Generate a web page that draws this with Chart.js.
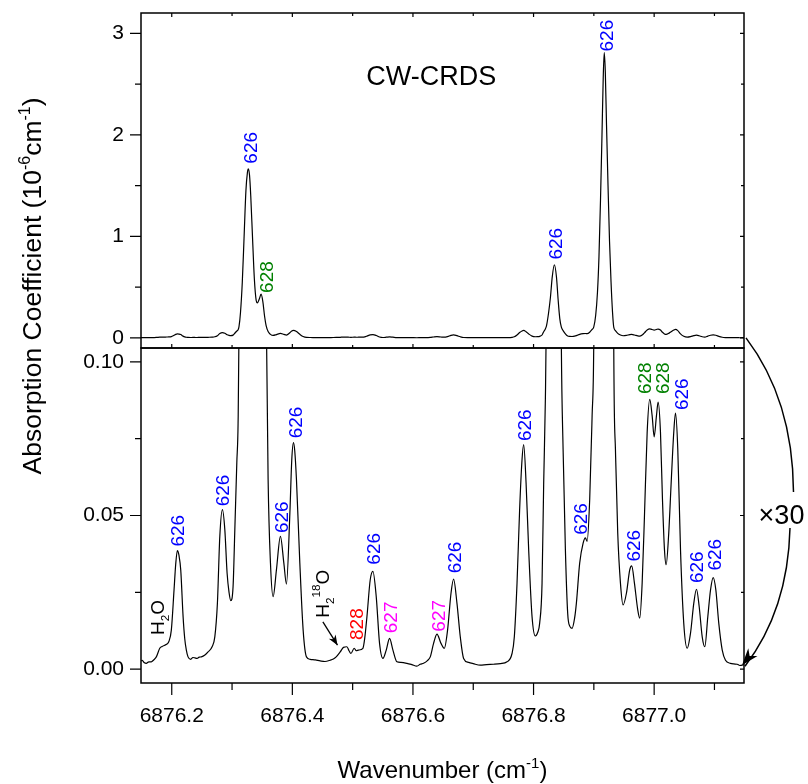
<!DOCTYPE html>
<html>
<head>
<meta charset="utf-8">
<title>CW-CRDS</title>
<script src="https://cdn.jsdelivr.net/npm/chart.js@4.4.1/dist/chart.umd.min.js"></script>
<style>
  html, body { margin: 0; padding: 0; background: #fff; }
  #wrap { width: 808px; height: 784px; }
</style>
</head>
<body>
<div id="wrap"><canvas id="myChart" width="808" height="784"></canvas></div>
<script>
// spectrum (same trace is shown in both panels, bottom one x30)
const wavenumber = [
  6876.1490, 6876.1507, 6876.1540, 6876.1578, 6876.1620, 6876.1661, 6876.1700, 6876.1744, 6876.1801, 6876.1840,
  6876.1884, 6876.1920, 6876.1950, 6876.1993, 6876.2038, 6876.2065, 6876.2093, 6876.2120, 6876.2149, 6876.2188,
  6876.2215, 6876.2242, 6876.2270, 6876.2315, 6876.2350, 6876.2382, 6876.2420, 6876.2455, 6876.2491, 6876.2550,
  6876.2602, 6876.2669, 6876.2714, 6876.2757, 6876.2797, 6876.2840, 6876.2880, 6876.2918, 6876.2950, 6876.2979,
  6876.3017, 6876.3046, 6876.3079, 6876.3100, 6876.3115, 6876.3140, 6876.3170, 6876.3200, 6876.3230, 6876.3255,
  6876.3270, 6876.3290, 6876.3310, 6876.3340, 6876.3370, 6876.3400, 6876.3420, 6876.3450, 6876.3482, 6876.3510,
  6876.3540, 6876.3565, 6876.3598, 6876.3637, 6876.3681, 6876.3736, 6876.3802, 6876.3859, 6876.3902, 6876.3959,
  6876.3990, 6876.4018, 6876.4040, 6876.4068, 6876.4124, 6876.4179, 6876.4234, 6876.4295, 6876.4380, 6876.4461,
  6876.4540, 6876.4627, 6876.4680, 6876.4727, 6876.4793, 6876.4848, 6876.4905, 6876.4940, 6876.4971, 6876.5026,
  6876.5060, 6876.5097, 6876.5170, 6876.5200, 6876.5237, 6876.5291, 6876.5336, 6876.5391, 6876.5446, 6876.5502,
  6876.5557, 6876.5612, 6876.5668, 6876.5734, 6876.5800, 6876.5900, 6876.5980, 6876.6066, 6876.6120, 6876.6176,
  6876.6240, 6876.6287, 6876.6342, 6876.6398, 6876.6465, 6876.6520, 6876.6574, 6876.6631, 6876.6674, 6876.6730,
  6876.6785, 6876.6840, 6876.6923, 6876.7000, 6876.7117, 6876.7220, 6876.7338, 6876.7450, 6876.7560, 6876.7643,
  6876.7681, 6876.7726, 6876.7769, 6876.7809, 6876.7836, 6876.7876, 6876.7919, 6876.7975, 6876.8030, 6876.8070,
  6876.8101, 6876.8141, 6876.8168, 6876.8196, 6876.8215, 6876.8250, 6876.8280, 6876.8310, 6876.8345, 6876.8380,
  6876.8407, 6876.8435, 6876.8461, 6876.8490, 6876.8528, 6876.8566, 6876.8600, 6876.8639, 6876.8680, 6876.8710,
  6876.8765, 6876.8822, 6876.8860, 6876.8888, 6876.8931, 6876.8971, 6876.8998, 6876.9030, 6876.9060, 6876.9085,
  6876.9110, 6876.9135, 6876.9155, 6876.9172, 6876.9190, 6876.9210, 6876.9235, 6876.9260, 6876.9285, 6876.9310,
  6876.9330, 6876.9358, 6876.9396, 6876.9441, 6876.9485, 6876.9540, 6876.9595, 6876.9628, 6876.9673, 6876.9728,
  6876.9761, 6876.9801, 6876.9839, 6876.9884, 6876.9927, 6876.9967, 6877.0000, 6877.0038, 6877.0066, 6877.0105,
  6877.0138, 6877.0171, 6877.0199, 6877.0242, 6877.0282, 6877.0325, 6877.0354, 6877.0392, 6877.0437, 6877.0491,
  6877.0548, 6877.0603, 6877.0657, 6877.0702, 6877.0747, 6877.0797, 6877.0840, 6877.0890, 6877.0935, 6877.0979,
  6877.1023, 6877.1072, 6877.1129, 6877.1183, 6877.1266, 6877.1320, 6877.1378, 6877.1420, 6877.1461, 6877.1490
];
const absorption = [
  0.0027, 0.0029, 0.0022, 0.0019, 0.0024, 0.0024, 0.0030, 0.0040, 0.0068, 0.0074,
  0.0078, 0.0082, 0.0089, 0.0127, 0.0258, 0.0340, 0.0386, 0.0370, 0.0323, 0.0171,
  0.0100, 0.0062, 0.0040, 0.0032, 0.0038, 0.0037, 0.0035, 0.0039, 0.0040, 0.0046,
  0.0056, 0.0073, 0.0105, 0.0214, 0.0432, 0.0519, 0.0454, 0.0312, 0.0250, 0.0223,
  0.0269, 0.0454, 0.0672, 0.0800, 0.110, 0.25, 0.55, 1.00, 1.45, 1.63,
  1.665, 1.60, 1.40, 0.98, 0.58, 0.37, 0.345, 0.38, 0.43, 0.36,
  0.21, 0.12, 0.0617, 0.0345, 0.0236, 0.0323, 0.0432, 0.0345, 0.0277, 0.0508,
  0.0680, 0.0737, 0.0710, 0.0617, 0.0345, 0.0127, 0.0040, 0.0032, 0.0030, 0.0027,
  0.0025, 0.0029, 0.0033, 0.0040, 0.0056, 0.0071, 0.0073, 0.0060, 0.0051, 0.0068,
  0.0060, 0.0062, 0.0068, 0.0100, 0.0171, 0.0290, 0.0318, 0.0236, 0.0084, 0.0035,
  0.0062, 0.0100, 0.0062, 0.0024, 0.0022, 0.0019, 0.0015, 0.0010, 0.0016, 0.0019,
  0.0028, 0.0040, 0.0084, 0.0114, 0.0084, 0.0068, 0.0127, 0.0247, 0.0293, 0.0214,
  0.0105, 0.0035, 0.0022, 0.0018, 0.0013, 0.0015, 0.0016, 0.0018, 0.0024, 0.0051,
  0.0105, 0.0280, 0.0519, 0.0682, 0.0731, 0.0606, 0.0389, 0.0171, 0.0108, 0.0120,
  0.0149, 0.0280, 0.0606, 0.0878, 0.12, 0.25, 0.40, 0.60, 0.72, 0.60,
  0.38, 0.19, 0.105, 0.0715, 0.0389, 0.0182, 0.0140, 0.0133, 0.0165, 0.0214,
  0.0345, 0.0410, 0.0427, 0.0416, 0.0552, 0.0824, 0.105, 0.22, 0.45, 0.80,
  1.35, 2.00, 2.55, 2.81, 2.62, 2.10, 1.50, 0.95, 0.55, 0.25,
  0.105, 0.0715, 0.0443, 0.0280, 0.0209, 0.0247, 0.0323, 0.0336, 0.0280, 0.0193,
  0.0166, 0.0280, 0.0497, 0.0770, 0.0878, 0.0824, 0.0756, 0.0824, 0.0869, 0.0770,
  0.0552, 0.0389, 0.0340, 0.0443, 0.0606, 0.0770, 0.0833, 0.0715, 0.0389, 0.0149,
  0.0068, 0.0117, 0.0214, 0.0260, 0.0203, 0.0105, 0.0073, 0.0171, 0.0258, 0.0298,
  0.0258, 0.0149, 0.0062, 0.0029, 0.0019, 0.0017, 0.0016, 0.0012, 0.0013, 0.0015
];

const xTicks = [6876.2, 6876.4, 6876.6, 6876.8, 6877.0];
const xTickLabels = ["6876.2", "6876.4", "6876.6", "6876.8", "6877.0"];
const xMinorTicks = [6876.3, 6876.5, 6876.7, 6876.9, 6877.1];
const topTicks = [0, 1, 2, 3];
const topTickLabels = ["0", "1", "2", "3"];
const topMinorTicks = [0.5, 1.5, 2.5];
const bottomTicks = [0, 0.05, 0.1];
const bottomTickLabels = ["0.00", "0.05", "0.10"];
const bottomMinorTicks = [0.025, 0.075];

// line assignments: text, colour, wavenumber / value where the label starts, panel
const peakText = ["626", "628", "626", "626",
  "H_{2}O", "626", "626", "626", "626", "H_{2}^{18}O", "828", "626", "627", "627", "626",
  "626", "626", "626", "628", "628", "626", "626", "626"];
const peakColor = ["blue", "green", "blue", "blue",
  "black", "blue", "blue", "blue", "blue", "black", "red", "blue", "magenta", "magenta", "blue",
  "blue", "blue", "blue", "green", "green", "blue", "blue", "blue"];
const peakX = [6876.3295, 6876.3570, 6876.8354, 6876.9200,
  6876.1756, 6876.2096, 6876.2843, 6876.3814, 6876.4055, 6876.4495, 6876.5051, 6876.5333, 6876.5623, 6876.6412, 6876.6677,
  6876.7847, 6876.8777, 6876.9648, 6876.9828, 6877.0129, 6877.0453, 6877.0702, 6877.1001];
const peakY = [1.716, 0.443, 0.771, 2.821,
  0.0111, 0.0399, 0.0530, 0.0443, 0.0751, 0.0167, 0.0095, 0.0340, 0.0117, 0.0122, 0.0312,
  0.0742, 0.0437, 0.0350, 0.0895, 0.0895, 0.0843, 0.0280, 0.0321];
const peakPanel = ["yTop", "yTop", "yTop", "yTop",
  "yBot", "yBot", "yBot", "yBot", "yBot", "yBot", "yBot", "yBot", "yBot", "yBot", "yBot",
  "yBot", "yBot", "yBot", "yBot", "yBot", "yBot", "yBot", "yBot"];

const FONT = "'Liberation Sans', Arial, Helvetica, sans-serif";
const COLORS = { blue: "#0000FF", green: "#008000", red: "#FF0000", magenta: "#FF00FF", black: "#000000" };

// "H_{2}^{18}O" -> parts with sub/superscripts
function richParts(text, size) {
  const parts = [];
  const re = /_\{([^}]*)\}|\^\{([^}]*)\}|([^_^]+)/g;
  let m;
  while ((m = re.exec(text)) !== null) {
    if (m[1] !== undefined) parts.push({ t: m[1], f: size * 0.62, dy: size * 0.28 });
    else if (m[2] !== undefined) parts.push({ t: m[2], f: size * 0.62, dy: -size * 0.45 });
    else parts.push({ t: m[3], f: size, dy: 0 });
  }
  return parts;
}

function drawRich(ctx, parts, x, y, angle, align, color) {
  ctx.save();
  ctx.translate(x, y);
  ctx.rotate(angle);
  ctx.textBaseline = "alphabetic";
  ctx.textAlign = "left";
  ctx.fillStyle = color || "#000";
  let total = 0;
  parts.forEach((p) => {
    ctx.font = p.f + "px " + FONT;
    p.w = ctx.measureText(p.t).width;
    total += p.w;
  });
  let cx = align === "center" ? -total / 2 : 0;
  parts.forEach((p) => {
    ctx.font = p.f + "px " + FONT;
    ctx.fillText(p.t, cx, p.dy || 0);
    cx += p.w;
  });
  ctx.restore();
}

function arrowHead(ctx, tipX, tipY, fromX, fromY, len, half) {
  const a = Math.atan2(tipY - fromY, tipX - fromX);
  const c = Math.cos(a), s = Math.sin(a);
  ctx.beginPath();
  ctx.moveTo(tipX, tipY);
  ctx.lineTo(tipX - len * c + half * s, tipY - len * s - half * c);
  ctx.lineTo(tipX - len * 0.7 * c, tipY - len * 0.7 * s);
  ctx.lineTo(tipX - len * c - half * s, tipY - len * s + half * c);
  ctx.closePath();
  ctx.fill();
}

const panelPlugin = {
  id: "panels",
  beforeDatasetDraw(chart, args) {
    const ys = args.meta.yScale;
    const a = chart.chartArea;
    chart.ctx.save();
    chart.ctx.beginPath();
    chart.ctx.rect(a.left, ys.top, a.right - a.left, ys.bottom - ys.top);
    chart.ctx.clip();
  },
  afterDatasetDraw(chart) {
    chart.ctx.restore();
  },
  afterDraw(chart) {
    const ctx = chart.ctx;
    const a = chart.chartArea;
    const xs = chart.scales.x;
    const yt = chart.scales.yTop;
    const yb = chart.scales.yBot;
    ctx.save();
    ctx.strokeStyle = "#000";
    ctx.fillStyle = "#000";

    // frames
    ctx.lineWidth = 1.5;
    [yt, yb].forEach((ys) => ctx.strokeRect(a.left, ys.top, a.right - a.left, ys.bottom - ys.top));

    // tick marks
    ctx.lineWidth = 1.2;
    ctx.beginPath();
    const xt = (v, len, inner) => {
      const p = xs.getPixelForValue(v);
      ctx.moveTo(p, yb.bottom); ctx.lineTo(p, yb.bottom + len);
      ctx.moveTo(p, yt.top); ctx.lineTo(p, yt.top + inner);
      ctx.moveTo(p, yt.bottom); ctx.lineTo(p, yt.bottom - inner);
    };
    xTicks.forEach((v) => xt(v, 12, 4));
    xMinorTicks.forEach((v) => xt(v, 7, 3));
    const yTick = (ys, v, len, inner) => {
      const p = ys.getPixelForValue(v);
      ctx.moveTo(a.left, p); ctx.lineTo(a.left - len, p);
      ctx.moveTo(a.right, p); ctx.lineTo(a.right - inner, p);
    };
    topTicks.forEach((v) => yTick(yt, v, 11, 4));
    topMinorTicks.forEach((v) => yTick(yt, v, 6, 3));
    bottomTicks.forEach((v) => yTick(yb, v, 11, 4));
    bottomMinorTicks.forEach((v) => yTick(yb, v, 6, 3));
    ctx.stroke();

    // line labels
    const labelSize = 19;
    peakText.forEach((t, i) => {
      const px = xs.getPixelForValue(peakX[i]);
      const py = chart.scales[peakPanel[i]].getPixelForValue(peakY[i]);
      drawRich(ctx, richParts(t, labelSize), px + 0.358 * labelSize, py, -Math.PI / 2, "left", COLORS[peakColor[i]]);
    });

    // small arrow to the H2 18O line
    const ax0 = xs.getPixelForValue(6876.4506), ay0 = yb.getPixelForValue(0.0154);
    const ax1 = xs.getPixelForValue(6876.4749), ay1 = yb.getPixelForValue(0.0078);
    ctx.lineWidth = 1.3;
    ctx.beginPath();
    ctx.moveTo(ax0, ay0);
    ctx.lineTo(ax1, ay1);
    ctx.stroke();
    arrowHead(ctx, ax1, ay1, ax0, ay0, 10, 4);

    // CW-CRDS
    drawRich(ctx, [{ t: "CW-CRDS", f: 27 }], xs.getPixelForValue(6876.6304), yt.getPixelForValue(2.59) + 0.358 * 27, 0, "center");

    // x30 curved arrow
    const r = a.right;
    const z0 = yt.getPixelForValue(0);
    const z1 = yb.getPixelForValue(0);
    ctx.lineWidth = 1.5;
    ctx.beginPath();
    ctx.moveTo(r + 2, z0);
    ctx.quadraticCurveTo(r + 49, z0 + 62, r + 49.5, 492);
    ctx.moveTo(r + 46, 528);
    ctx.quadraticCurveTo(r + 44, 610, r + 1, z1 - 3);
    ctx.stroke();
    arrowHead(ctx, r - 2, z1 - 4, r + 44, 610, 17, 6);
    drawRich(ctx, [{ t: "\u00d730", f: 27 }], r + 37.5, 514.5 + 0.358 * 27, 0, "center");

    // axis titles
    drawRich(ctx, [{ t: "Wavenumber (cm", f: 24 }, { t: "-1", f: 15, dy: -10 }, { t: ")", f: 24 }],
      (a.left + a.right) / 2, a.bottom + 95, 0, "center");
    drawRich(ctx, [{ t: "Absorption Coefficient (10", f: 26.5 }, { t: "-6", f: 16, dy: -11 },
      { t: "cm", f: 26.5 }, { t: "-1", f: 16, dy: -11 }, { t: ")", f: 26.5 }],
      32 + 0.358 * 26.5, 286, -Math.PI / 2, "center");
    ctx.restore();
  }
};

const tickFont = { family: FONT, size: 21 };
const pick = (values, labels) => (v) => {
  const i = values.findIndex((t) => Math.abs(t - v) < 1e-6);
  return i < 0 ? "" : labels[i];
};
// fixed box sizes so the plot area sits where it does in the figure
const fixWidth = (w) => (s) => { s.width = w; s.paddingTop = 0; s.paddingBottom = 0; };
const fixHeight = (h) => (s) => { s.height = h; s.paddingLeft = 0; s.paddingRight = 0; };

const lineStyle = {
  borderColor: "#000",
  borderWidth: 1.2,
  pointRadius: 0,
  fill: false,
  cubicInterpolationMode: "monotone"
};

const chartElement = document.getElementById("myChart");
const myChart = new Chart(chartElement, {
  type: "line",
  data: {
    datasets: [
      { ...lineStyle, label: "CW-CRDS", yAxisID: "yTop", data: wavenumber.map((w, i) => ({ x: w, y: absorption[i] })) },
      { ...lineStyle, label: "x30", yAxisID: "yBot", data: wavenumber.map((w, i) => ({ x: w, y: absorption[i] })) }
    ]
  },
  options: {
    responsive: false,
    animation: false,
    layout: { padding: { top: 13, right: 64, left: 0, bottom: 0 } },
    plugins: { legend: { display: false }, tooltip: { enabled: false } },
    scales: {
      x: {
        type: "linear",
        position: "bottom",
        min: 6876.149,
        max: 6877.149,
        grid: { display: false, drawTicks: false },
        border: { display: false },
        afterBuildTicks: (s) => { s.ticks = xTicks.map((v) => ({ value: v })); },
        afterFit: fixHeight(101),
        ticks: { callback: pick(xTicks, xTickLabels), font: tickFont, color: "#000", padding: 21, maxRotation: 0, autoSkip: false }
      },
      // stacked panels: the first one listed ends up at the bottom
      yBot: {
        type: "linear",
        position: "left",
        stack: "panels",
        stackWeight: 1,
        min: -0.0045,
        max: 0.1045,
        grid: { display: false, drawTicks: false },
        border: { display: false },
        afterBuildTicks: (s) => { s.ticks = bottomTicks.map((v) => ({ value: v })); },
        afterFit: fixWidth(141),
        ticks: { callback: pick(bottomTicks, bottomTickLabels), font: tickFont, color: "#000", padding: 17, autoSkip: false }
      },
      yTop: {
        type: "linear",
        position: "left",
        stack: "panels",
        stackWeight: 1,
        min: -0.1,
        max: 3.2,
        grid: { display: false, drawTicks: false },
        border: { display: false },
        afterBuildTicks: (s) => { s.ticks = topTicks.map((v) => ({ value: v })); },
        afterFit: fixWidth(141),
        ticks: { callback: pick(topTicks, topTickLabels), font: tickFont, color: "#000", padding: 17, autoSkip: false }
      }
    }
  },
  plugins: [panelPlugin]
});
</script>
</body>
</html>
